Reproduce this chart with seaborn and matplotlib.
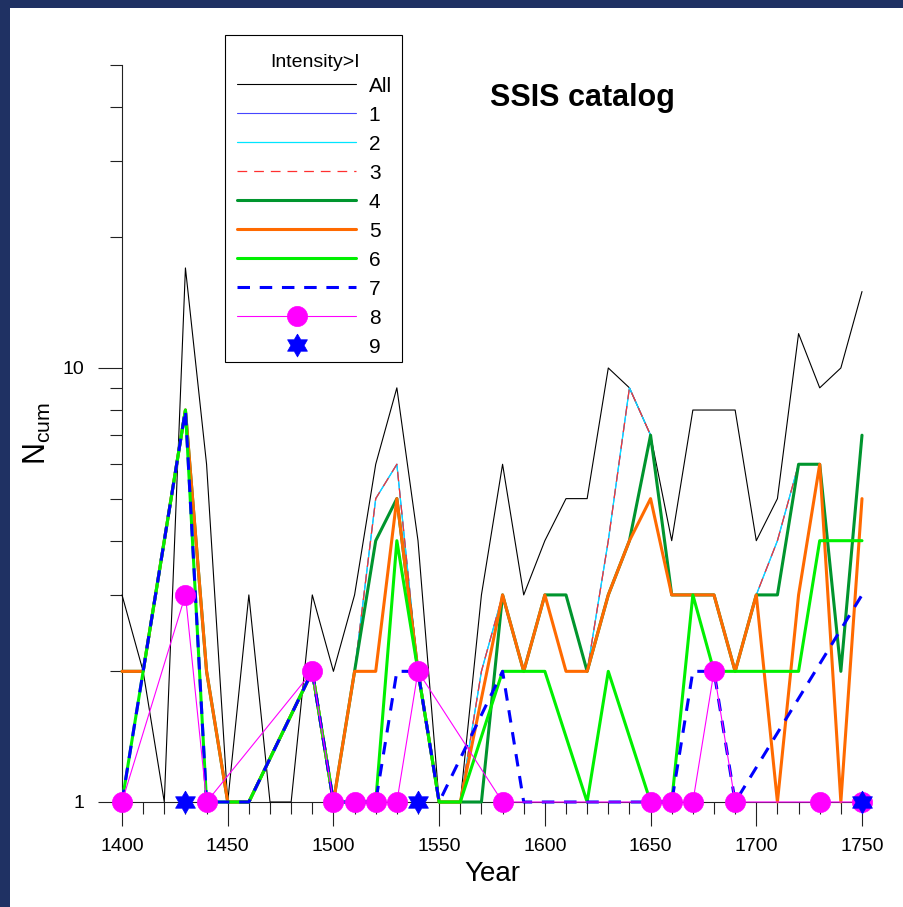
import numpy as np
import pandas as pd
import matplotlib
matplotlib.use("Agg")
import matplotlib.pyplot as plt
import seaborn as sns
from matplotlib.ticker import FixedLocator, NullFormatter, FixedFormatter
from matplotlib.patches import Rectangle

nan = np.nan
years = list(range(1400, 1760, 10))

n_all = [3, 2, 1, 17, 6, 1, 3, 1, 1, 3, 2, 3, 6, 9, 4, 1, 1, 3, 6, 3,
         4, 5, 5, 10, 9, 7, 4, 8, 8, 8, 4, 5, 12, 9, 10, 15]
n_i1 = [2, 2, 4, 8, 2, 1, 1, nan, nan, 2, 1, 2, 5, 6, 2, 1, 1, 2, 3, 2,
        3, 3, 2, 4, 9, 7, 3, 3, 3, 2, 3, 4, 6, 6, 2, 7]
n_i2 = [2, 2, 4, 8, 2, 1, 1, nan, nan, 2, 1, 2, 5, 6, 2, 1, 1, 2, 3, 2,
        3, 3, 2, 4, 9, 7, 3, 3, 3, 2, 3, 4, 6, 6, 2, 7]
n_i3 = [2, 2, 4, 8, 2, 1, 1, nan, nan, 2, 1, 2, 5, 6, 2, 1, 1, 2, 3, 2,
        3, 3, 2, 4, 9, 7, 3, 3, 3, 2, 3, 4, 6, 6, 2, 7]
n_i4 = [2, 2, 4, 8, 2, 1, 1, nan, nan, 2, 1, 2, 4, 5, 2, 1, 1, 1, 3, 2,
        3, 3, 2, 3, 4, 7, 3, 3, 3, 2, 3, 3, 6, 6, 2, 7]
n_i5 = [2, 2, 4, 8, 2, 1, 1, nan, nan, 2, 1, 2, 2, 5, 2, 1, 1, nan, 3, 2,
        3, 2, 2, 3, 4, 5, 3, 3, 3, 2, 3, 1, 3, 6, 1, 5]
n_i6 = [1, 2, 4, 8, 1, 1, 1, nan, nan, 2, 1, 1, 1, 4, 2, 1, 1, nan, 2, 2,
        2, nan, 1, 2, nan, 1, 1, 3, 2, 2, 2, 2, 2, 4, 4, 4]
n_i7 = [1, 2, 4, 8, 1, 1, 1, nan, nan, 2, 1, 1, 1, 2, 2, 1, nan, nan, 2, 1,
        1, 1, 1, 1, 1, 1, 1, 2, 2, 1, nan, nan, nan, nan, nan, 3]
n_i8 = [1, nan, nan, 3, 1, nan, nan, nan, nan, 2, 1, 1, 1, 1, 2, nan, nan, nan, 1, nan,
        nan, nan, nan, nan, nan, 1, 1, 1, 2, 1, nan, nan, nan, 1, nan, 1]
n_i9 = [nan, nan, nan, 1, nan, nan, nan, nan, nan, nan, nan, nan, nan, nan, 1, nan, nan, nan, nan, nan,
        nan, nan, nan, nan, nan, nan, nan, nan, nan, nan, nan, nan, nan, nan, nan, 1]

series_labels = ["All", "1", "2", "3", "4", "5", "6", "7", "8", "9"]
x_major = [1400, 1450, 1500, 1550, 1600, 1650, 1700, 1750]
y_major = [1, 10]
y_major_labels = ["1", "10"]

sns.set_style("ticks")
plt.rcParams['font.family'] = ['Liberation Sans', 'DejaVu Sans']
plt.rcParams['mathtext.fontset'] = 'custom'
plt.rcParams['mathtext.rm'] = 'Liberation Sans'
plt.rcParams['mathtext.it'] = 'Liberation Sans:italic'
plt.rcParams['lines.scale_dashes'] = False
plt.rcParams['text.color'] = 'black'
plt.rcParams['axes.labelcolor'] = 'black'

fig = plt.figure(figsize=(9.04, 9.07), dpi=100, facecolor='#1f3163')
fig.patches.append(Rectangle((10 / 904, 0), 1 - 10 / 904, 1 - 8 / 907,
                             transform=fig.transFigure, facecolor='white',
                             edgecolor='none', zorder=-5))
ax = fig.add_axes([122 / 904, 1 - 802 / 907, 740 / 904, (802 - 64.6) / 907])
ax.set_facecolor('none')

# hexagram marker
r_in = 1 / np.sqrt(3)
verts = []
for k in range(6):
    a_o = np.deg2rad(90 + 60 * k)
    a_i = np.deg2rad(120 + 60 * k)
    verts.append((np.cos(a_o), np.sin(a_o)))
    verts.append((r_in * np.cos(a_i), r_in * np.sin(a_i)))
verts.append(verts[0])

data = [n_all, n_i1, n_i2, n_i3, n_i4, n_i5, n_i6, n_i7, n_i8, n_i9]
styles = [
    dict(color='black', linewidth=0.8),
    dict(color='#4646ff', linewidth=0.8),
    dict(color='#00e5ff', linewidth=0.9),
    dict(color='#ff3030', linewidth=0.9, linestyle=(0, (7, 5))),
    dict(color='#00952e', linewidth=2.2),
    dict(color='#ff6a00', linewidth=2.2),
    dict(color='#00f000', linewidth=2.2),
    dict(color='#0000ff', linewidth=2.2, linestyle=(0, (9, 7))),
    dict(color='#ff00ff', linewidth=0.8, marker='o', markersize=14.5,
         markerfacecolor='#ff00ff', markeredgecolor='#ff00ff', markeredgewidth=0.5),
    dict(color='#0000ff', linestyle='none', marker=verts, markersize=16.5,
         markerfacecolor='#0000ff', markeredgecolor='#0000ff', markeredgewidth=0.5),
]

for vals, lab, st in zip(data, series_labels, styles):
    df = pd.DataFrame({"Year": years, "N": vals})
    sns.lineplot(data=df, x="Year", y="N", ax=ax, label=lab, estimator=None,
                 errorbar=None, clip_on=False, zorder=3, **st)

ax.set_yscale('log')
ax.set_xlim(1400, 1750)
ax.set_ylim(1, 50)

ax.xaxis.set_major_locator(FixedLocator(x_major))
ax.xaxis.set_minor_locator(FixedLocator(list(range(1400, 1760, 10))))
ax.yaxis.set_major_locator(FixedLocator(y_major))
ax.yaxis.set_major_formatter(FixedFormatter(y_major_labels))
ax.yaxis.set_minor_locator(FixedLocator([2, 3, 4, 5, 6, 7, 8, 9, 20, 30, 40, 50]))
ax.yaxis.set_minor_formatter(NullFormatter())

for s in ['top', 'right']:
    ax.spines[s].set_visible(False)
for s in ['left', 'bottom']:
    ax.spines[s].set_color('#222222')
    ax.spines[s].set_linewidth(0.8)

ax.tick_params(which='both', bottom=True, left=True, top=False, right=False)
ax.tick_params(which='major', direction='out', length=17.5, width=0.8,
               color='#222222', labelsize=14, labelcolor='black')
ax.tick_params(which='minor', direction='out', length=8.5, width=0.8, color='#222222')
ax.tick_params(axis='x', which='major', pad=8.5)
ax.tick_params(axis='y', which='major', pad=9.5)

ax.set_xlabel("Year", fontsize=20, labelpad=4)
ax.set_ylabel("")
fig.text(37 / 904, 1 - 433 / 907, "N$_{\\mathrm{cum}}$", rotation=90,
         ha='center', va='center', fontsize=22)

fig.text(582 / 904, 1 - 106 / 907, "SSIS catalog", ha='center', va='baseline',
         fontsize=22, fontweight='bold')

# legend frame drawn separately for exact placement
frame = Rectangle((225 / 904, 1 - 362 / 907), 177 / 904, 327 / 907,
                  transform=fig.transFigure, facecolor='white',
                  edgecolor='black', linewidth=0.8, zorder=4.5, clip_on=False)
ax.add_patch(frame)

handles, labels = ax.get_legend_handles_labels()
leg = ax.legend(handles, labels, title='Intensity>I', loc='upper left',
                bbox_to_anchor=(225 / 904, 1 - 41.5 / 907),
                bbox_transform=fig.transFigure, borderaxespad=0,
                frameon=False, fontsize=15, title_fontsize=14, handlelength=5.7,
                handletextpad=0.6, labelspacing=0.48, borderpad=0.6,
                numpoints=1)
leg._legend_box.sep = 4.0
leg.set_zorder(5)

fig.savefig("out.png", dpi=100, facecolor=fig.get_facecolor())
